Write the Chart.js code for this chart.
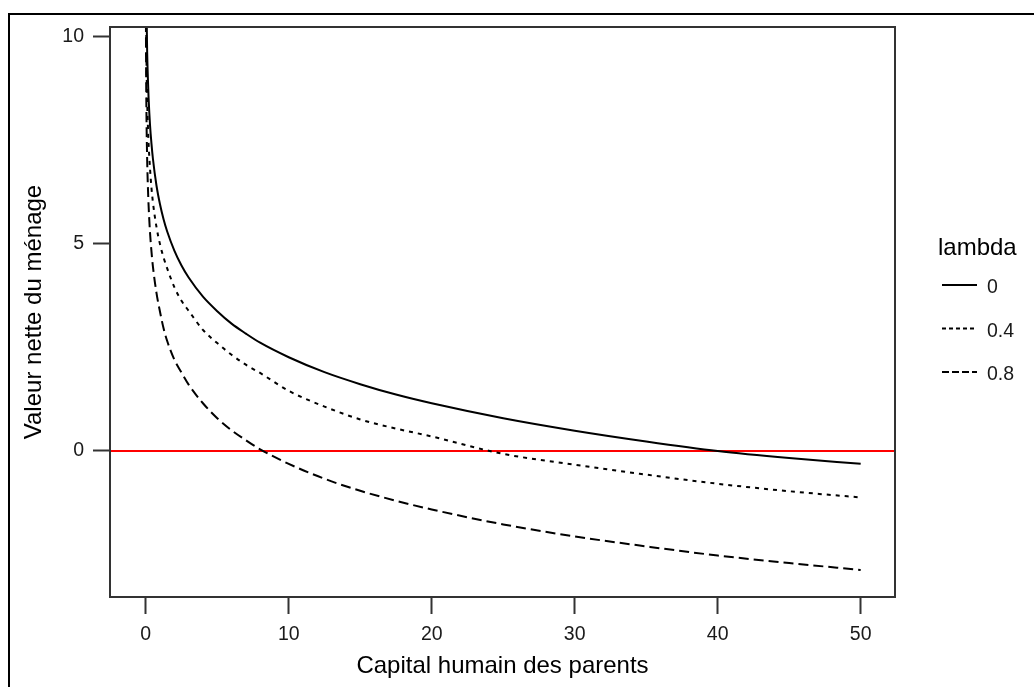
<!DOCTYPE html>
<html>
<head>
<meta charset="utf-8">
<script src="https://cdn.jsdelivr.net/npm/chart.js@4"></script>
<style>
html, body { margin: 0; padding: 0; background: #fff; overflow: hidden; }
#frame { position: absolute; left: 8px; top: 13px; width: 1100px; height: 800px; border: 2px solid #000; }
#wrap { position: absolute; left: 0; top: 0; width: 1034px; height: 687px; }
</style>
</head>
<body>
<div id="frame"></div>
<div id="wrap"><canvas id="chartUI"></canvas></div>
<script>
// Donnees
var capital = [0.01, 0.02, 0.05, 0.1, 0.15, 0.2, 0.3, 0.4, 0.5, 0.75, 1, 1.25, 1.5, 2, 2.5, 3, 4, 5, 6, 7, 8, 10, 12.5, 15, 17.5, 20, 25, 30, 35, 40, 45, 50];
var lambda0  = [null, null, 10.7, 9.6, 8.98, 8.5, 7.85, 7.41, 7.05, 6.4, 5.94, 5.58, 5.29, 4.83, 4.47, 4.18, 3.72, 3.37, 3.07, 2.83, 2.61, 2.26, 1.9, 1.61, 1.36, 1.15, 0.79, 0.49, 0.23, 0.0, -0.17, -0.31];
var lambda04 = [null, 10.9, 9.5, 8.45, 7.84, 7.4, 6.8, 6.34, 6.0, 5.4, 4.98, 4.66, 4.4, 3.95, 3.62, 3.38, 2.92, 2.6, 2.32, 2.08, 1.88, 1.45, 1.07, 0.76, 0.54, 0.35, -0.07, -0.33, -0.57, -0.79, -0.97, -1.12];
var lambda08 = [10.7, 9.57, 8.11, 7.01, 6.37, 5.91, 5.26, 4.81, 4.45, 3.81, 3.35, 2.95, 2.65, 2.2, 1.89, 1.6, 1.15, 0.79, 0.5, 0.26, 0.04, -0.31, -0.67, -0.96, -1.2, -1.41, -1.77, -2.06, -2.3, -2.52, -2.7, -2.87];
var lambdaNames = ['0', '0.4', '0.8'];
var xTicks = [0, 10, 20, 30, 40, 50];
var yTicks = [0, 5, 10];
var refLine = 0;
var xMin = -2.5, xMax = 52.4, yMin = -3.52, yMax = 10.22;

var fontFamily = '"Liberation Sans", Arial, sans-serif';
var curveDash = [[], [4, 5], [10, 5]];
var keyDash = [[], [4, 3], [7, 3]];

Chart.defaults.font.family = fontFamily;

var ctx, lineChart;

var toPoints = function(ys) {
	var pts = [];
	for (var i = 0; i < capital.length; i++) {
		pts.push({ x: capital[i], y: ys[i] });
	}
	return pts;
};

// cadre du panneau
var panelBox = {
	id: 'panelBox',
	afterDatasetsDraw: function(chart) {
		var a = chart.chartArea, c = chart.ctx;
		c.save();
		c.strokeStyle = '#333';
		c.lineWidth = 2;
		c.strokeRect(a.left, a.top, a.right - a.left, a.bottom - a.top);
		c.restore();
	}
};

// legende a droite, facon ggplot
var lambdaLegend = {
	id: 'lambdaLegend',
	afterDraw: function(chart) {
		var a = chart.chartArea, c = chart.ctx;
		var x0 = a.right + 43;
		c.save();
		c.fillStyle = '#000';
		c.font = '24px ' + fontFamily;
		c.textBaseline = 'alphabetic';
		c.fillText('lambda', x0, 255);
		c.font = '19.5px ' + fontFamily;
		for (var i = 0; i < lambdaNames.length; i++) {
			var y = 285 + i * 43.5;
			c.strokeStyle = '#000';
			c.lineWidth = 2;
			c.setLineDash(keyDash[i]);
			c.beginPath();
			c.moveTo(x0 + 4, y);
			c.lineTo(x0 + 39, y);
			c.stroke();
			c.setLineDash([]);
			c.fillStyle = '#1a1a1a';
			c.fillText(lambdaNames[i], x0 + 49, y + 8);
		}
		c.restore();
	}
};

var series = [lambda0, lambda04, lambda08];
var datasets = series.map(function(s, i) {
	return {
		label: lambdaNames[i],
		data: toPoints(s),
		borderColor: '#000',
		borderWidth: 2,
		borderDash: curveDash[i],
		pointRadius: 0,
		fill: false,
		cubicInterpolationMode: 'monotone',
		spanGaps: false
	};
});
datasets.push({
	label: 'ref',
	data: [{ x: xMin, y: refLine }, { x: xMax, y: refLine }],
	borderColor: '#ff0000',
	borderWidth: 2,
	pointRadius: 0,
	fill: false
});

var lineChartConfig = {
	type: 'line',
	data: { datasets: datasets },
	options: {
		responsive: true,
		maintainAspectRatio: false,
		animation: false,
		layout: { padding: { left: 0, top: 27, right: 139, bottom: 0 } },
		plugins: { legend: { display: false }, tooltip: { enabled: false } },
		scales: {
			x: {
				type: 'linear',
				min: xMin,
				max: xMax,
				afterBuildTicks: function(scale) { scale.ticks = xTicks.map(function(v) { return { value: v }; }); },
				afterFit: function(scale) { scale.height = 90; },
				grid: { drawOnChartArea: false, drawTicks: true, tickLength: 17, tickWidth: 2, tickColor: '#333' },
				border: { display: false },
				ticks: { color: '#1a1a1a', padding: 9, font: { size: 19.5 }, maxRotation: 0 },
				title: { display: true, text: 'Capital humain des parents', color: '#000', font: { size: 24 }, padding: { top: 0, bottom: 6 } }
			},
			y: {
				type: 'linear',
				min: yMin,
				max: yMax,
				afterBuildTicks: function(scale) { scale.ticks = yTicks.map(function(v) { return { value: v }; }); },
				afterFit: function(scale) { scale.width = 110; },
				grid: { drawOnChartArea: false, drawTicks: true, tickLength: 17, tickWidth: 2, tickColor: '#333' },
				border: { display: false },
				ticks: { color: '#1a1a1a', padding: 9, font: { size: 19.5 } },
				title: { display: true, text: 'Valeur nette du ménage', color: '#000', font: { size: 24 }, padding: { top: 20, bottom: 0 } }
			}
		}
	},
	plugins: [panelBox, lambdaLegend]
};

ctx = document.getElementById('chartUI');
lineChart = new Chart(ctx, lineChartConfig);
</script>
</body>
</html>
